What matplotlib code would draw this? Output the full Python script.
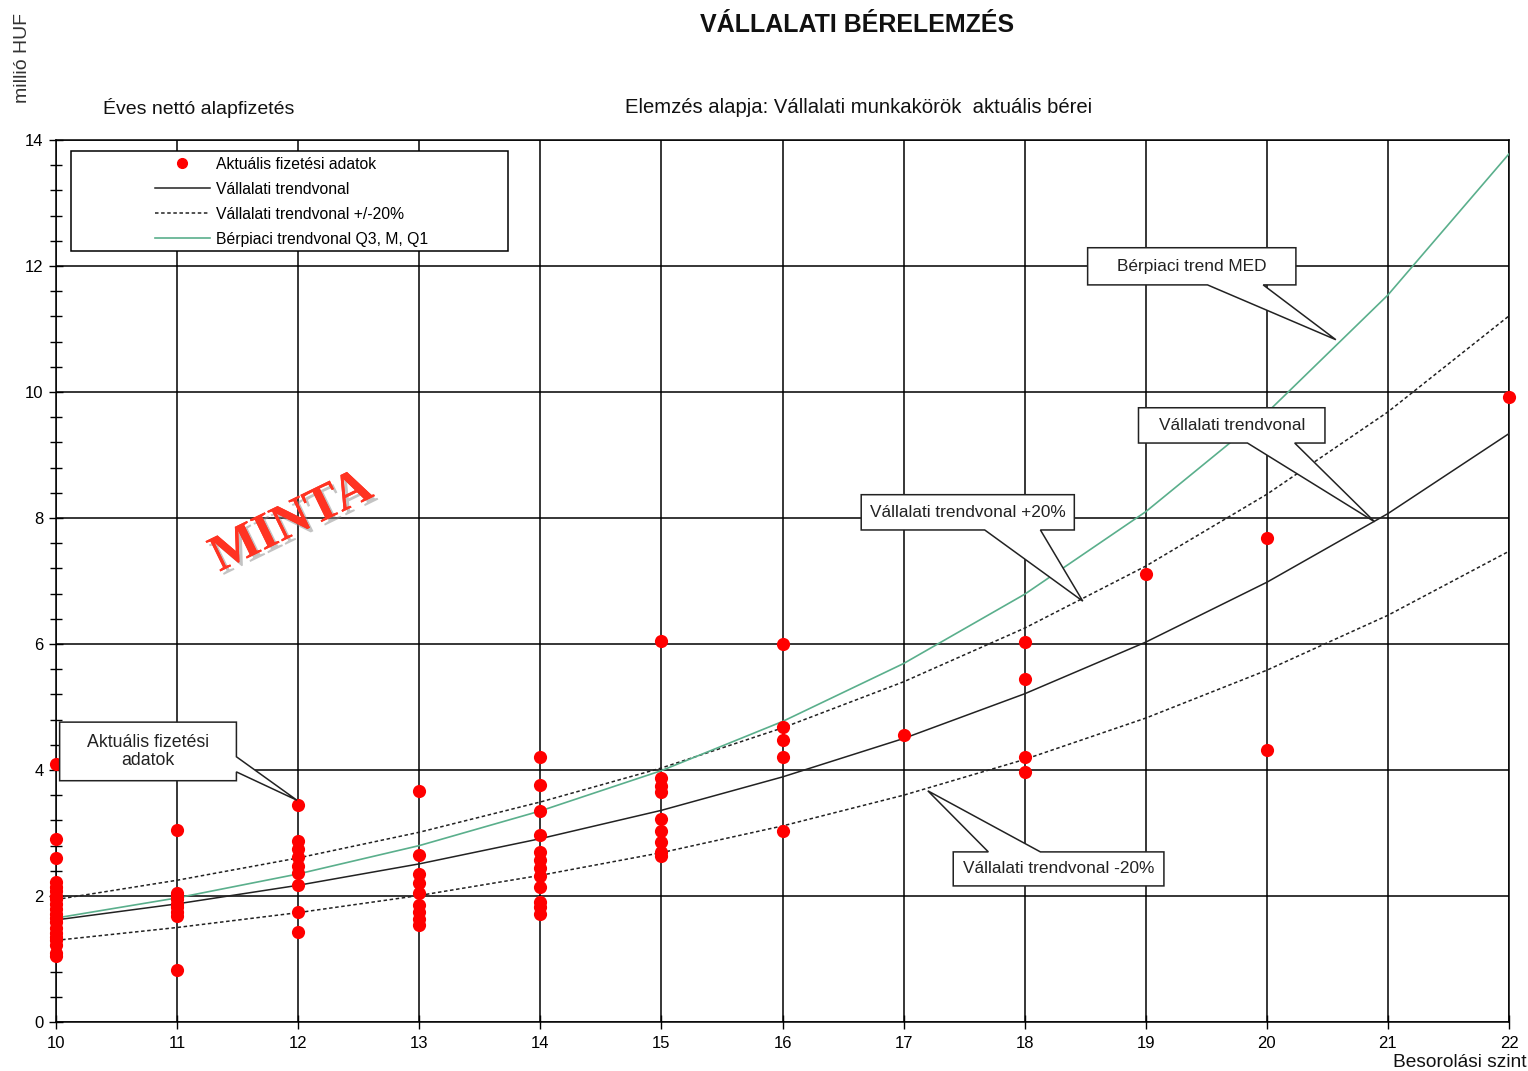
import numpy as np
import matplotlib
matplotlib.use("Agg")
import matplotlib.pyplot as plt
from matplotlib.patches import Polygon, Rectangle
from matplotlib.lines import Line2D
import matplotlib.patheffects as pe

plt.rcParams['font.family'] = ['Liberation Sans', 'DejaVu Sans']

# grading levels (x axis) and the two trend curves read at each level
levels = [10, 11, 12, 13, 14, 15, 16, 17, 18, 19, 20, 21, 22]
company_trend = [1.62, 1.875, 2.17, 2.51, 2.91, 3.36, 3.89, 4.50, 5.21, 6.03, 6.98, 8.07, 9.34]
market_med = [1.65, 1.97, 2.35, 2.80, 3.35, 3.99, 4.77, 5.69, 6.79, 8.10, 9.67, 11.54, 13.78]
band = 0.20

# actual pay data points per level (million HUF)
pay_10 = [4.10, 2.90, 2.60, 2.22, 2.15, 2.08, 2.00, 1.95, 1.88, 1.80, 1.72, 1.65,
          1.58, 1.50, 1.42, 1.35, 1.30, 1.22, 1.10, 1.05]
pay_11 = [3.05, 2.05, 2.00, 1.95, 1.88, 1.82, 1.75, 1.68, 0.82]
pay_12 = [3.45, 2.88, 2.74, 2.62, 2.48, 2.36, 2.18, 1.74, 1.43]
pay_13 = [3.67, 2.65, 2.35, 2.20, 2.05, 1.86, 1.75, 1.64, 1.54]
pay_14 = [4.20, 3.76, 3.35, 2.97, 2.70, 2.57, 2.45, 2.32, 2.15, 1.90, 1.82, 1.72]
pay_15 = [6.05, 3.87, 3.74, 3.65, 3.23, 3.03, 2.85, 2.70, 2.63]
pay_16 = [6.00, 4.68, 4.47, 4.20, 3.03]
pay_17 = [4.55]
pay_18 = [6.03, 5.45, 4.20, 3.97]
pay_19 = [7.11]
pay_20 = [7.68, 4.32]
pay_22 = [9.92]

pay_groups = [(10, pay_10), (11, pay_11), (12, pay_12), (13, pay_13), (14, pay_14),
              (15, pay_15), (16, pay_16), (17, pay_17), (18, pay_18), (19, pay_19),
              (20, pay_20), (22, pay_22)]
pay_x = [lv for lv, vals in pay_groups for _ in vals]
pay_y = [v for lv, vals in pay_groups for v in vals]

fig = plt.figure(figsize=(15.28, 10.71), dpi=100)
ax = fig.add_axes([0.03665, 0.04575, 0.95092, 0.82353])

trend = np.array(company_trend)
ax.plot(levels, trend, color='#222222', lw=1.1, zorder=3)
ax.plot(levels, trend * (1 + band), color='#222222', lw=1.1, ls=(0, (2.3, 1.7)), zorder=3)
ax.plot(levels, trend * (1 - band), color='#222222', lw=1.1, ls=(0, (2.3, 1.7)), zorder=3)
ax.plot(levels, market_med, color='#5aaf8c', lw=1.2, zorder=3)
ax.scatter(pay_x, pay_y, s=90, color='#ff0000', zorder=5, clip_on=False, linewidths=0)

ax.set_xlim(10, 22)
ax.set_ylim(0, 14)
ax.set_xticks(levels)
ax.set_yticks(np.arange(0, 15, 2))
ax.set_yticks(np.arange(0, 14.01, 0.4), minor=True)
ax.grid(True, which='major', color='black', lw=1.1, zorder=1)
ax.set_axisbelow(True)
ax.tick_params(axis='both', which='major', direction='inout', length=10, width=1,
               labelsize=12, colors='black')
ax.tick_params(axis='y', which='minor', direction='inout', length=8, width=1)
ax.tick_params(axis='x', pad=5)
ax.tick_params(axis='y', pad=4)
for sp in ax.spines.values():
    sp.set_linewidth(1.1)

# legend: frame drawn separately so the entries can sit indented
ax.add_patch(Rectangle((0.0103, 0.8742), 0.3008, 0.1133, transform=ax.transAxes,
                       facecolor='white', edgecolor='black', lw=1.1, zorder=6))
handles = [
    Line2D([], [], ls='none', marker='o', color='#ff0000', markersize=7),
    Line2D([], [], color='#222222', lw=1.1),
    Line2D([], [], color='#222222', lw=1.1, ls=(0, (2.3, 1.7))),
    Line2D([], [], color='#5aaf8c', lw=1.2),
]
labels = ['Aktuális fizetési adatok', 'Vállalati trendvonal',
          'Vállalati trendvonal +/-20%', 'Bérpiaci trendvonal Q3, M, Q1']
leg = ax.legend(handles, labels, loc='upper left', bbox_to_anchor=(0.068, 0.981),
                frameon=False, fontsize=11.3, handlelength=3.5, handletextpad=0.38,
                labelspacing=0.64, borderpad=0, borderaxespad=0, numpoints=1)
leg.set_zorder(7)


def callout(box, base, tip, text, side, size=12.4):
    x0, x1, yb, yt = box
    b0, b1 = base
    if side == 'bottom':
        pts = [(x0, yt), (x1, yt), (x1, yb), (b1, yb), tip, (b0, yb), (x0, yb)]
    elif side == 'top':
        pts = [(x0, yb), (x0, yt), (b0, yt), tip, (b1, yt), (x1, yt), (x1, yb)]
    else:
        pts = [(x0, yb), (x0, yt), (x1, yt), (x1, b0), tip, (x1, b1), (x1, yb)]
    ax.add_patch(Polygon(pts, closed=True, facecolor='white', edgecolor='#222222',
                         lw=1.1, zorder=8, clip_on=False))
    ax.text((x0 + x1) / 2, (yb + yt) / 2, text, ha='center', va='center',
            fontsize=size, color='#222222', zorder=9, linespacing=1.05)


callout((10.03, 11.49, 3.83, 4.76), (4.21, 3.97), (11.99, 3.52),
        'Aktuális fizetési\nadatok', 'right', 12.8)
callout((18.52, 20.24, 11.70, 12.29), (19.51, 19.97), (20.57, 10.83),
        'Bérpiaci trend MED', 'bottom')
callout((18.94, 20.48, 9.19, 9.75), (19.84, 20.23), (20.89, 7.94),
        'Vállalati trendvonal', 'bottom')
callout((16.65, 18.41, 7.81, 8.37), (17.67, 18.13), (18.48, 6.68),
        'Vállalati trendvonal +20%', 'bottom')
callout((17.41, 19.15, 2.16, 2.70), (17.70, 18.13), (17.20, 3.67),
        'Vállalati trendvonal -20%', 'top')

# watermark
ax.text(11.95, 7.92, 'MINTA', fontsize=37, fontweight='bold', family='Liberation Serif',
        color='#ff3322', rotation=26, ha='center', va='center', zorder=4,
        path_effects=[pe.withSimplePatchShadow(offset=(2.5, -2.5), shadow_rgbFace='#888888',
                                               alpha=0.5), pe.Normal()])

fig.text(0.561, 0.9767, 'VÁLLALATI BÉRELEMZÉS', ha='center', va='center',
         fontsize=18, fontweight='bold', color='#111111')
fig.text(0.562, 0.900, 'Elemzés alapja: Vállalati munkakörök  aktuális bérei',
         ha='center', va='center', fontsize=14.6, color='#111111')
fig.text(0.0674, 0.899, 'Éves nettó alapfizetés', ha='left', va='center',
         fontsize=14, color='#111111')
fig.text(0.0144, 0.946, 'millió HUF', ha='center', va='center', rotation=90,
         fontsize=14, color='#333333')
fig.text(0.9993, 0.0084, 'Besorolási szint', ha='right', va='center',
         fontsize=13.8, color='#111111')

fig.savefig('out.png', dpi=100)
